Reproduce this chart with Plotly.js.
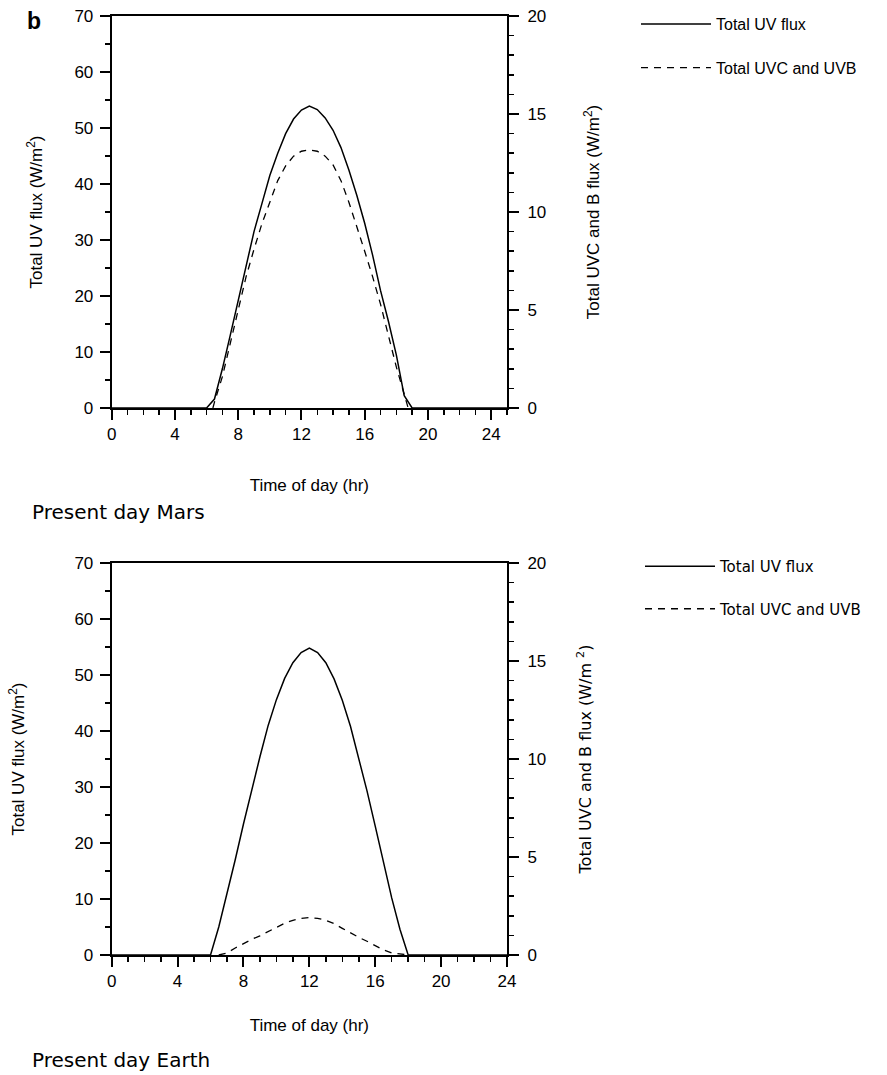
<!DOCTYPE html>
<html>
<head>
<meta charset="utf-8">
<script src="https://cdn.plot.ly/plotly-3.0.1.min.js"></script>
<style>
  html, body { margin: 0; padding: 0; background: #fff; }
  #chart { width: 887px; height: 1075px; }
</style>
</head>
<body>
<div id="chart"></div>
<script>
// ---------------- DATA ----------------
// Present day Mars
const marsHours      = [0, 6.0, 6.5, 7.0, 7.5, 8.0, 8.5, 9.0, 9.5, 10.0, 10.5, 11.0, 11.5, 12.0, 12.5, 13.0, 13.5, 14.0, 14.5, 15.0, 15.5, 16.0, 16.5, 17.0, 17.5, 18.0, 18.5, 19.0, 25];
const marsTotalUV    = [0, 0,   1.6, 7,   13,  19,  25.5, 31.5, 36.5, 41.5, 45.5, 49,  51.6, 53.2, 53.9, 53.3, 51.8, 49.6, 46.5, 42.5, 38,  33,  27.3, 21,  15.5, 9.5, 2.2, 0,   0];
const marsDashHours  = [6.4, 6.5, 7.0, 7.5, 8.0, 8.5, 9.0, 9.5, 10.0, 10.5, 11.0, 11.5, 12.0, 12.5, 13.0, 13.5, 14.0, 14.5, 15.0, 15.5, 16.0, 16.5, 17.0, 17.5, 18.0, 18.5, 18.75];
const marsUVCB       = [0,   0.3, 1.6, 3.3, 5.1, 6.7, 8.1, 9.4, 10.5, 11.6, 12.35, 12.85, 13.1, 13.17, 13.1, 12.85, 12.4, 11.6, 10.5, 9.3, 8.0, 6.7, 5.3, 3.7, 2.1, 0.7, 0];

// Present day Earth
const earthHours     = [0, 6.0, 6.5, 7.0, 7.5, 8.0, 8.5, 9.0, 9.5, 10.0, 10.5, 11.0, 11.5, 12.0, 12.5, 13.0, 13.5, 14.0, 14.5, 15.0, 15.5, 16.0, 16.5, 17.0, 17.5, 18.0, 24];
const earthTotalUV   = [0, 0,   5,   10.8, 17,  23.4, 29.5, 35.4, 41,  45.6, 49.4, 52.2, 54,  54.8, 54,  52.2, 49.3, 45.5, 40.8, 35.3, 29.3, 23,  16.5, 10.2, 4.6, 0,   0];
const earthDashHours = [6.5, 7.0, 7.5, 8.0, 8.5, 9.0, 9.5, 10.0, 10.5, 11.0, 11.5, 12.0, 12.5, 13.0, 13.5, 14.0, 14.5, 15.0, 15.5, 16.0, 16.5, 17.0, 17.5, 18.0];
const earthUVCB      = [0,   0.1, 0.36, 0.59, 0.8, 0.98, 1.2, 1.43, 1.62, 1.77, 1.87, 1.91, 1.87, 1.77, 1.6, 1.36, 1.12, 0.9, 0.7, 0.48, 0.26, 0.11, 0.05, 0];

const seriesNames = ['Total UV flux', 'Total UVC and UVB'];
const panelTitles = ['Present day Mars', 'Present day Earth'];
const xTitle = 'Time of day (hr)';
const yLeftTitle = 'Total UV flux (W/m<sup>2</sup>)';
const yRightTitleTop = 'Total UVC and B flux (W/m<sup>2</sup>)';
const yRightTitleBottom = 'Total UVC and B flux (W/m <sup>2</sup>)';

// ---------------- LAYOUT HELPERS ----------------
const W = 887, H = 1075;
const fx = p => p / W;
const fy = p => 1 - p / H;

const HELV = 'Liberation Sans, Arial, Helvetica, sans-serif';
const GENEVA = 'DejaVu Sans, Verdana, sans-serif';
const BLACK = '#000';

function xAxis(range, domain, anchor, standoff) {
  return {
    domain: domain, range: range, anchor: anchor,
    title: { text: xTitle, standoff: standoff, font: { family: HELV, size: 17, color: BLACK } },
    automargin: false,
    tickmode: 'linear', tick0: 0, dtick: 4,
    ticks: 'outside', ticklen: 10, tickwidth: 2, tickcolor: BLACK,
    minor: { dtick: 1, ticks: 'outside', ticklen: 5, tickwidth: 1.5, tickcolor: BLACK, showgrid: false },
    showline: true, linewidth: 2, linecolor: BLACK, mirror: true,
    showgrid: false, zeroline: false,
    tickfont: { family: HELV, size: 17, color: BLACK },
    fixedrange: true
  };
}
function yAxisLeft(domain, anchor, standoff) {
  return {
    domain: domain, range: [0, 70], anchor: anchor, side: 'left',
    title: { text: yLeftTitle, standoff: standoff, font: { family: HELV, size: 17, color: BLACK } },
    automargin: false,
    tickmode: 'linear', tick0: 0, dtick: 10,
    ticks: 'outside', ticklen: 10, tickwidth: 2, tickcolor: BLACK,
    minor: { dtick: 5, ticks: 'outside', ticklen: 5, tickwidth: 1.5, tickcolor: BLACK, showgrid: false },
    showline: true, linewidth: 2, linecolor: BLACK,
    showgrid: false, zeroline: false,
    ticklabelstandoff: 3,
    tickfont: { family: HELV, size: 17, color: BLACK },
    fixedrange: true
  };
}
function yAxisRight(overlay, anchor, titleText, titleFont, standoff) {
  return {
    overlaying: overlay, anchor: anchor, side: 'right', range: [0, 20],
    title: { text: titleText, standoff: standoff, font: titleFont },
    automargin: false,
    tickmode: 'linear', tick0: 0, dtick: 5,
    ticks: 'outside', ticklen: 10, tickwidth: 2, tickcolor: BLACK,
    minor: { dtick: 1, ticks: 'outside', ticklen: 5, tickwidth: 1.5, tickcolor: BLACK, showgrid: false },
    showline: true, linewidth: 2, linecolor: BLACK,
    showgrid: false, zeroline: false,
    ticklabelstandoff: 5,
    tickfont: { family: HELV, size: 17, color: BLACK },
    fixedrange: true
  };
}

const solid = { color: BLACK, width: 1.5, dash: 'solid' };
const dashed = { color: BLACK, width: 1.3, dash: '7px,6px' };

const traces = [
  { x: marsHours, y: marsTotalUV, type: 'scatter', mode: 'lines', name: seriesNames[0],
    line: solid, xaxis: 'x', yaxis: 'y', legend: 'legend', legendgroup: 'm1' },
  { x: marsDashHours, y: marsUVCB, type: 'scatter', mode: 'lines', name: seriesNames[1],
    line: dashed, xaxis: 'x', yaxis: 'y2', legend: 'legend', legendgroup: 'm2' },
  { x: earthHours, y: earthTotalUV, type: 'scatter', mode: 'lines', name: seriesNames[0],
    line: solid, xaxis: 'x2', yaxis: 'y3', legend: 'legend2', legendgroup: 'e1' },
  { x: earthDashHours, y: earthUVCB, type: 'scatter', mode: 'lines', name: seriesNames[1],
    line: dashed, xaxis: 'x2', yaxis: 'y4', legend: 'legend2', legendgroup: 'e2' }
];

const xDom = [fx(111.7), fx(507)];
const topDom = [fy(408), fy(16)];
const botDom = [fy(955), fy(563)];

function ann(text, px, py, opts) {
  return Object.assign({
    text: text, xref: 'paper', yref: 'paper', x: fx(px), y: fy(py),
    showarrow: false, xanchor: 'center', yanchor: 'middle',
    font: { family: HELV, size: 17, color: BLACK }
  }, opts || {});
}

const layout = {
  width: W, height: H,
  margin: { l: 0, r: 0, t: 0, b: 0, pad: 0 },
  paper_bgcolor: '#fff', plot_bgcolor: '#fff',
  showlegend: true,
  xaxis: xAxis([0, 25], xDom, 'y', 36),
  yaxis: yAxisLeft(topDom, 'x', 27),
  yaxis2: yAxisRight('y', 'x', yRightTitleTop, { family: HELV, size: 17, color: BLACK }, 42),
  xaxis2: xAxis([0, 24], xDom, 'y3', 29),
  yaxis3: yAxisLeft(botDom, 'x2', 45),
  yaxis4: yAxisRight('y3', 'x2', yRightTitleBottom, { family: GENEVA, size: 16, color: BLACK }, 34),
  legend: {
    x: fx(636), y: fy(7), xanchor: 'left', yanchor: 'top',
    itemwidth: 70, traceorder: 'grouped', tracegroupgap: 20,
    bgcolor: 'rgba(0,0,0,0)', borderwidth: 0,
    font: { family: HELV, size: 16, color: BLACK }
  },
  legend2: {
    x: fx(640), y: fy(550), xanchor: 'left', yanchor: 'top',
    itemwidth: 70, traceorder: 'grouped', tracegroupgap: 20,
    bgcolor: 'rgba(0,0,0,0)', borderwidth: 0,
    font: { family: GENEVA, size: 15, color: BLACK }
  },
  annotations: [
    ann('<b>b</b>', 25, 21, { xanchor: 'left', font: { family: HELV, size: 23, color: BLACK } }),
    ann(panelTitles[0], 30, 512, { xanchor: 'left', font: { family: GENEVA, size: 20, color: BLACK } }),
    ann(panelTitles[1], 30, 1060, { xanchor: 'left', font: { family: GENEVA, size: 20, color: BLACK } })
  ]
};

Plotly.newPlot('chart', traces, layout, { displayModeBar: false, staticPlot: true });
</script>
</body>
</html>
